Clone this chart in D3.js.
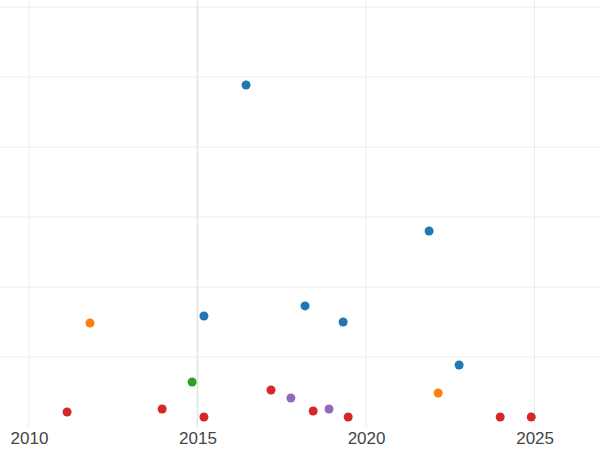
<!DOCTYPE html>
<html><head><meta charset="utf-8">
<script src="https://cdn.jsdelivr.net/npm/d3@7"></script>
<style>body{margin:0;background:#fff}svg{display:block;font-family:"DejaVu Sans",sans-serif}</style>
</head><body><div id="chart"></div>
<script>
const years = [2016.44, 2021.87, 2018.19, 2015.19, 2019.32, 2022.76,
  2011.81, 2022.14, 2014.84,
  2011.13, 2013.95, 2015.19, 2017.18, 2018.43, 2019.47, 2023.98, 2024.9,
  2017.77, 2018.9]
const values = [4.886, 2.8, 1.73, 1.586, 1.5, 0.886,
  1.486, 0.486, 0.643,
  0.214, 0.257, 0.143, 0.529, 0.229, 0.143, 0.143, 0.143,
  0.414, 0.257]
const groups = ['a','a','a','a','a','a','b','b','c','d','d','d','d','d','d','d','d','e','e']
const groupNames = ['a','b','c','d','e']
const xTicks = [2010, 2015, 2020, 2025]
const yTicks = [1, 2, 3, 4, 5, 6]

const width = 600, height = 450
const x = d3.scaleLinear().domain([2009.14, 2026.94]).range([0, width])
const y = d3.scaleLinear().domain([0, 1]).range([427, 357])
const color = d3.scaleOrdinal().domain(groupNames)
  .range(['#1f77b4', '#ff7f0e', '#2ca02c', '#d62728', '#9467bd'])

const svg = d3.select('#chart').append('svg').attr('width', width).attr('height', height)

svg.append('g').selectAll('line').data(yTicks).join('line')
  .attr('x1', 0).attr('x2', width).attr('y1', d => y(d)).attr('y2', d => y(d))
  .attr('stroke', '#ececec')
svg.append('g').selectAll('line').data(xTicks).join('line')
  .attr('x1', d => x(d)).attr('x2', d => x(d)).attr('y1', 0).attr('y2', 427)
  .attr('stroke', d => d === 2015 ? '#e4e4e4' : '#ececec')
  .attr('stroke-width', d => d === 2015 ? 1.5 : 1)

const xAxis = svg.append('g').attr('transform', 'translate(0,427)')
  .call(d3.axisBottom(x).tickValues(xTicks).tickFormat(d3.format('d')).tickSize(0).tickPadding(5))
xAxis.select('.domain').remove()
xAxis.selectAll('text').attr('font-size', 17).attr('fill', '#444')

svg.append('g').selectAll('circle').data(years).join('circle')
  .attr('cx', d => x(d)).attr('cy', (d, i) => y(values[i])).attr('r', 4.5)
  .attr('fill', (d, i) => color(groups[i]))
</script></body></html>
